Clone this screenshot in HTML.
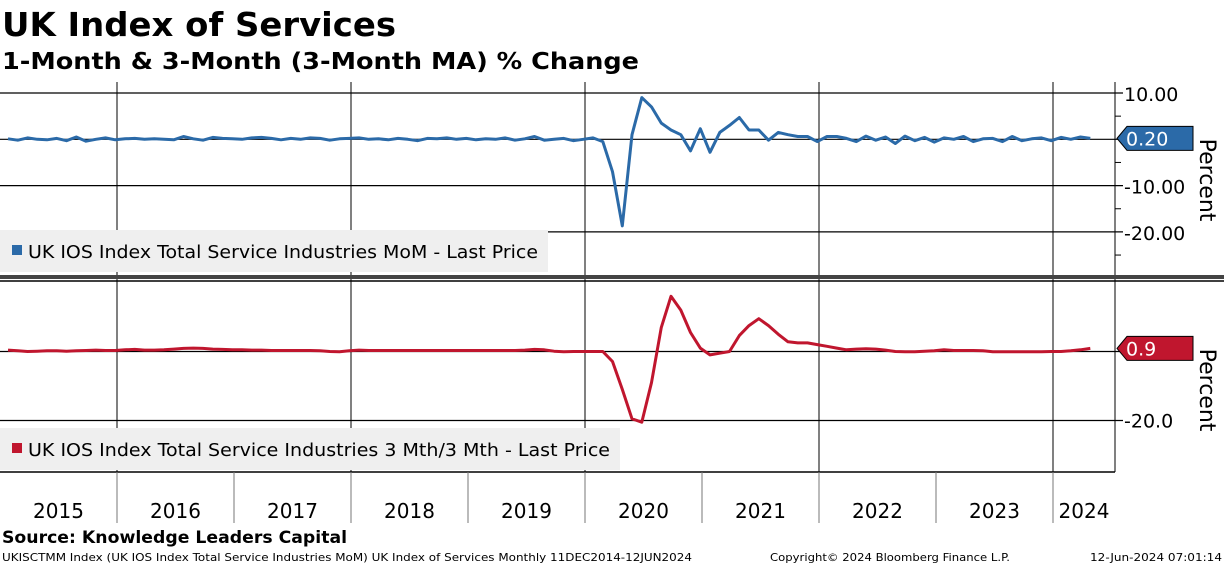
<!DOCTYPE html>
<html><head><meta charset="utf-8"><style>
body{margin:0;background:#fff;width:1224px;height:566px;overflow:hidden}
svg{display:block;font-family:"DejaVu Sans","Liberation Sans",sans-serif}
</style></head><body>
<svg id="c" width="1224" height="566" viewBox="0 0 1224 566">
<text x="2" y="36" font-size="33" font-weight="bold" textLength="394" lengthAdjust="spacingAndGlyphs">UK Index of Services</text>
<text x="2" y="69" font-size="23" font-weight="bold" textLength="637" lengthAdjust="spacingAndGlyphs">1-Month &amp; 3-Month (3-Month MA) % Change</text>
<g id="grid"></g>
<rect x="0" y="230" width="548" height="42" fill="#efefef"/>
<rect x="12" y="245" width="10" height="10" fill="#2b6aa8"/>
<text x="28" y="258" font-size="18" textLength="510" lengthAdjust="spacingAndGlyphs">UK IOS Index Total Service Industries MoM - Last Price</text>
<rect x="0" y="428" width="620" height="42" fill="#efefef"/>
<rect x="12" y="443" width="10" height="10" fill="#c0162e"/>
<text x="28" y="456" font-size="18" textLength="582" lengthAdjust="spacingAndGlyphs">UK IOS Index Total Service Industries 3 Mth/3 Mth - Last Price</text>
<g id="series"></g>
<rect x="0" y="275" width="1224" height="4" fill="#444"/>
<text x="2" y="543" font-size="17" font-weight="bold" textLength="345" lengthAdjust="spacingAndGlyphs">Source: Knowledge Leaders Capital</text>
<text x="2" y="561" font-size="11" textLength="690" lengthAdjust="spacingAndGlyphs">UKISCTMM Index (UK IOS Index Total Service Industries MoM) UK Index of Services  Monthly 11DEC2014-12JUN2024</text>
<text x="770" y="561" font-size="11" textLength="240" lengthAdjust="spacingAndGlyphs">Copyright© 2024 Bloomberg Finance L.P.</text>
<text x="1090" y="561" font-size="11" textLength="132" lengthAdjust="spacingAndGlyphs">12-Jun-2024 07:01:14</text>
</svg>
<script>
const years=["2015","2016","2017","2018","2019","2020","2021","2022","2023","2024"];
const topTicks=[10,0,-10,-20];
const topTickLabels=["10.00","","-10.00","-20.00"];
const botTicks=[0,-20];
const botTickLabels=["","-20.0"];
const momValues=[0.1,-0.2,0.3,0.0,-0.1,0.2,-0.3,0.5,-0.4,0.0,0.3,-0.1,0.1,0.2,0.0,0.1,0.0,-0.1,0.6,0.1,-0.2,0.4,0.2,0.1,0.0,0.3,0.4,0.2,-0.1,0.2,0.0,0.3,0.2,-0.2,0.1,0.2,0.3,0.0,0.1,-0.1,0.2,0.0,-0.3,0.2,0.1,0.3,0.0,0.2,-0.1,0.1,0.0,0.3,-0.2,0.1,0.6,-0.2,0.0,0.2,-0.3,0.0,0.3,-0.5,-7.0,-18.7,1.0,9.0,7.0,3.5,2.0,1.0,-2.5,2.3,-2.8,1.5,3.0,4.7,2.0,2.0,-0.2,1.5,1.0,0.6,0.6,-0.5,0.6,0.6,0.2,-0.5,0.7,-0.2,0.5,-0.9,0.7,-0.3,0.4,-0.6,0.3,0.0,0.6,-0.5,0.1,0.2,-0.5,0.6,-0.3,0.1,0.3,-0.3,0.4,0.0,0.5,0.2];
const ratioValues=[0.4,0.2,0.0,0.1,0.2,0.2,0.1,0.2,0.3,0.4,0.3,0.3,0.5,0.6,0.4,0.4,0.5,0.7,0.9,1.0,0.9,0.7,0.6,0.5,0.5,0.4,0.4,0.3,0.3,0.3,0.3,0.3,0.2,0.0,-0.1,0.2,0.4,0.3,0.3,0.3,0.3,0.3,0.3,0.3,0.3,0.3,0.3,0.3,0.3,0.3,0.3,0.3,0.3,0.4,0.6,0.5,0.1,-0.1,0.0,0.0,0.0,0.0,-2.9,-11.0,-19.5,-20.5,-9.0,7.0,16.0,12.0,5.5,1.0,-1.0,-0.5,0.0,4.6,7.5,9.5,7.5,5.0,2.8,2.5,2.5,2.0,1.5,1.0,0.5,0.7,0.8,0.7,0.4,0.0,-0.1,-0.1,0.1,0.2,0.5,0.3,0.3,0.3,0.2,-0.1,-0.1,-0.1,-0.1,-0.1,-0.1,0.0,0.0,0.2,0.5,0.9];
const NS="http://www.w3.org/2000/svg";
const X0=8,MW=9.75,AX=1115;
const xm=i=>X0+MW*i;
const yTop=v=>139.3-4.63*v;
const yBot=v=>351.5-3.45*v;
const grid=document.getElementById('grid'),ser=document.getElementById('series');
function el(p,t,a){const e=document.createElementNS(NS,t);for(const k in a)e.setAttribute(k,a[k]);p.appendChild(e);return e;}
let e=el(grid,'line',{x1:0,x2:1224,y1:281,y2:281,stroke:'#000','stroke-width':1.5});


e=el(grid,'line',{x1:0,x2:AX,y1:472,y2:472,stroke:'#000','stroke-width':1.5});


e=el(grid,'line',{x1:AX,x2:AX,y1:82,y2:472,stroke:'#000','stroke-width':1});


years.forEach((y,k)=>{
  const xs=117*k;
  if(k>0){
    if(k%2===1||k===9){
      let l=el(grid,'line',{x1:xs,x2:xs,y1:82,y2:472,stroke:'#000','stroke-width':1});
      
      
    }
    let t=el(grid,'line',{x1:xs,x2:xs,y1:472,y2:523,stroke:'#777','stroke-width':1});
    
    
  }
  const xe=(k===9)?1115:117*(k+1);
  let tx=el(grid,'text',{x:(xs+xe)/2,y:518,'font-size':20,'text-anchor':'middle'});
  tx.textContent=y;
  
  
});
topTicks.forEach((v,k)=>{
  const y=yTop(v);
  let l=el(grid,'line',{x1:0,x2:AX+8,y1:y,y2:y,stroke:'#000','stroke-width':1.2});
  
  
  if(topTickLabels[k]){
    let t=el(grid,'text',{x:1124,y:y+8,'font-size':19});
    t.textContent=topTickLabels[k];
    
    
  }
  let m=el(grid,'line',{x1:AX,x2:AX+6,y1:yTop(v-5),y2:yTop(v-5),stroke:'#000'});
  
  
});
botTicks.forEach((v,k)=>{
  const y=yBot(v);
  let l=el(grid,'line',{x1:0,x2:AX+8,y1:y,y2:y,stroke:'#000','stroke-width':1.2});
  
  
  if(botTickLabels[k]){
    let t=el(grid,'text',{x:1124,y:y+7,'font-size':19});
    t.textContent=botTickLabels[k];
    
    
  }
});
function line(vals,fy,col,name){
  const p=el(ser,'polyline',{points:vals.map((v,i)=>xm(i).toFixed(1)+','+fy(v).toFixed(1)).join(' '),fill:'none',stroke:col,'stroke-width':3,'stroke-linejoin':'round'});
  
  
}
line(momValues,yTop,'#2b6aa8','mom-line');
line(ratioValues,yBot,'#c0162e','three-month-line');
function tag(v,fy,col,txt,name){
  const y=fy(v);
  const p=el(ser,'polygon',{points:`${AX+2},${y} ${AX+12},${y-12} ${1193},${y-12} ${1193},${y+12} ${AX+12},${y+12}`,fill:col,stroke:'#000','stroke-width':1});
  
  
  const t=el(ser,'text',{x:1126,y:y+7,'font-size':19,fill:'#fff'});
  t.textContent=txt;
  
  
}
tag(momValues[momValues.length-1],yTop,'#2b6aa8',momValues[momValues.length-1].toFixed(2),'mom-last-value-tag');
tag(ratioValues[ratioValues.length-1],yBot,'#c0162e',ratioValues[ratioValues.length-1].toFixed(1),'three-month-last-value-tag');
[[180,'top-y-axis-title'],[390,'bottom-y-axis-title']].forEach(([cy,n])=>{
  const t=el(ser,'text',{x:0,y:0,'font-size':22,'text-anchor':'middle',transform:`translate(1200,${cy}) rotate(90)`});
  t.textContent='Percent';
  
  
});
</script>
</body></html>
